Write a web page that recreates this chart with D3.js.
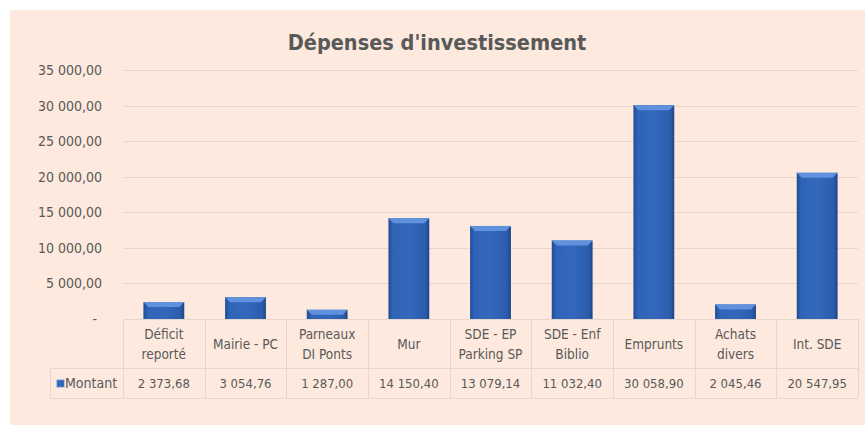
<!DOCTYPE html>
<html>
<head>
<meta charset="utf-8">
<script src="https://cdn.jsdelivr.net/npm/d3@7"></script>
<style>
  body { margin: 0; background: #ffffff; }
  svg { display: block; }
</style>
</head>
<body>
<div id="chart"></div>
<script>
// Data
const categories = [
  ["Déficit", "reporté"],
  ["Mairie - PC"],
  ["Parneaux", "DI Ponts"],
  ["Mur"],
  ["SDE - EP", "Parking SP"],
  ["SDE - Enf", "Biblio"],
  ["Emprunts"],
  ["Achats", "divers"],
  ["Int. SDE"]
];
const montant = [2373.68, 3054.76, 1287.00, 14150.40, 13079.14, 11032.40, 30058.90, 2045.46, 20547.95];
const yTicks = [0, 5000, 10000, 15000, 20000, 25000, 30000, 35000];
const seriesName = "Montant";
const chartTitle = "Dépenses d'investissement";

const width = 865, height = 425;
const fontFamily = "'DejaVu Sans Condensed', 'Open Sans', sans-serif";
const textColor = "#595959";
const gridColor = "#e6d6cb";

const plot = { left: 123, right: 858, top: 70, bottom: 319 };
const tableRow1 = 368, tableRow2 = 398, tableLeft = 50;

// French number format: "2 373,68"
const frLocale = d3.formatLocale({ decimal: ",", thousands: "\u00a0", grouping: [3], currency: ["", " €"] });
const fmt = frLocale.format(",.2f");
const fmtTick = v => v === 0 ? "-" : fmt(v);

const svg = d3.select("#chart").append("svg")
  .attr("width", width)
  .attr("height", height);

// bar gradient (horizontal shading)
const defs = svg.append("defs");
const grad = defs.append("linearGradient").attr("id", "barGrad").attr("x1", 0).attr("x2", 1).attr("y1", 0).attr("y2", 0);
grad.append("stop").attr("offset", "0%").attr("stop-color", "#214c91");
grad.append("stop").attr("offset", "10%").attr("stop-color", "#2f63b6");
grad.append("stop").attr("offset", "50%").attr("stop-color", "#3468bd");
grad.append("stop").attr("offset", "90%").attr("stop-color", "#2c5dac");
grad.append("stop").attr("offset", "100%").attr("stop-color", "#1d4586");

// chart area background
svg.append("rect")
  .attr("x", 10).attr("y", 10)
  .attr("width", width - 10).attr("height", height - 10)
  .attr("fill", "#fde9dd");

const xCol = d3.scaleBand()
  .domain(d3.range(categories.length))
  .range([plot.left, plot.right])
  .padding(0);

const xBar = d3.scaleBand()
  .domain(d3.range(categories.length))
  .range([plot.left, plot.right])
  .paddingInner(0.5)
  .paddingOuter(0.25);

const y = d3.scaleLinear()
  .domain([0, 35000])
  .range([plot.bottom, plot.top]);

// title
svg.append("text")
  .attr("x", 437).attr("y", 50)
  .attr("text-anchor", "middle")
  .style("font-family", fontFamily)
  .style("font-size", "21.5px")
  .style("font-weight", "bold")
  .style("fill", textColor)
  .text(chartTitle);

// gridlines
svg.append("g").selectAll("line")
  .data(yTicks.filter(t => t > 0))
  .join("line")
  .attr("x1", plot.left).attr("x2", plot.right)
  .attr("y1", d => Math.round(y(d)) + 0.5).attr("y2", d => Math.round(y(d)) + 0.5)
  .attr("stroke", gridColor)
  .attr("stroke-width", 1);

// y axis labels
const yAxis = d3.axisLeft(y).tickValues(yTicks).tickFormat(fmtTick).tickSize(0).tickPadding(21);
const yg = svg.append("g").attr("transform", `translate(${plot.left},0)`).call(yAxis);
yg.select(".domain").remove();
yg.selectAll("text")
  .style("font-family", fontFamily)
  .style("font-size", "14px")
  .style("fill", textColor)
  .attr("dx", d => d === 0 ? -5 : 0);

// bars
const bars = svg.append("g");
bars.selectAll("rect.bar")
  .data(montant)
  .join("rect")
  .attr("class", "bar")
  .attr("x", (d, i) => xBar(i))
  .attr("y", d => y(d))
  .attr("width", xBar.bandwidth())
  .attr("height", d => plot.bottom - y(d))
  .attr("fill", "url(#barGrad)");
// top bevel
bars.selectAll("path.bevel")
  .data(montant)
  .join("path")
  .attr("class", "bevel")
  .attr("d", (d, i) => {
    const x0 = xBar(i), x1 = x0 + xBar.bandwidth(), t = y(d), b = 5;
    return `M${x0},${t}L${x1},${t}L${x1 - b},${t + b}L${x0 + b},${t + b}Z`;
  })
  .attr("fill", "#5f91dd");

// table borders
const table = svg.append("g").attr("stroke", gridColor).attr("stroke-width", 1).attr("fill", "none");
table.append("line")
  .attr("x1", plot.left).attr("x2", plot.right)
  .attr("y1", plot.bottom + 0.5).attr("y2", plot.bottom + 0.5);
table.append("line")
  .attr("x1", tableLeft).attr("x2", plot.right)
  .attr("y1", tableRow1 + 0.5).attr("y2", tableRow1 + 0.5);
table.append("line")
  .attr("x1", tableLeft).attr("x2", plot.right)
  .attr("y1", tableRow2 + 0.5).attr("y2", tableRow2 + 0.5);
table.append("line")
  .attr("x1", tableLeft + 0.5).attr("x2", tableLeft + 0.5)
  .attr("y1", tableRow1).attr("y2", tableRow2);
table.selectAll("line.col")
  .data(d3.range(categories.length + 1))
  .join("line")
  .attr("class", "col")
  .attr("x1", i => Math.round(plot.left + i * xCol.step()) + 0.5)
  .attr("x2", i => Math.round(plot.left + i * xCol.step()) + 0.5)
  .attr("y1", plot.bottom).attr("y2", tableRow2);

// category labels
const catG = svg.append("g")
  .style("font-family", fontFamily)
  .style("font-size", "13.5px")
  .style("fill", textColor)
  .attr("text-anchor", "middle");
categories.forEach((lines, i) => {
  const cx = xCol(i) + xCol.bandwidth() / 2;
  const mid = (plot.bottom + tableRow1) / 2;
  const t = catG.append("text").attr("x", cx);
  lines.forEach((ln, k) => {
    t.append("tspan")
      .attr("x", cx)
      .attr("y", mid + 5 + (k - (lines.length - 1) / 2) * 20)
      .text(ln);
  });
});

// value row
svg.append("g").selectAll("text")
  .data(montant)
  .join("text")
  .attr("x", (d, i) => xCol(i) + xCol.bandwidth() / 2)
  .attr("y", (tableRow1 + tableRow2) / 2 + 5)
  .attr("text-anchor", "middle")
  .style("font-family", fontFamily)
  .style("font-size", "13px")
  .style("fill", textColor)
  .text(d => fmt(d));

// legend key
svg.append("rect")
  .attr("x", 57).attr("y", 380)
  .attr("width", 7).attr("height", 7)
  .attr("fill", "url(#barGrad)")
  .attr("stroke", "#5f91dd").attr("stroke-width", 0.8);
svg.append("text")
  .attr("x", 65).attr("y", (tableRow1 + tableRow2) / 2 + 5)
  .style("font-family", fontFamily)
  .style("font-size", "14px")
  .style("fill", textColor)
  .text(seriesName);
</script>
</body>
</html>
